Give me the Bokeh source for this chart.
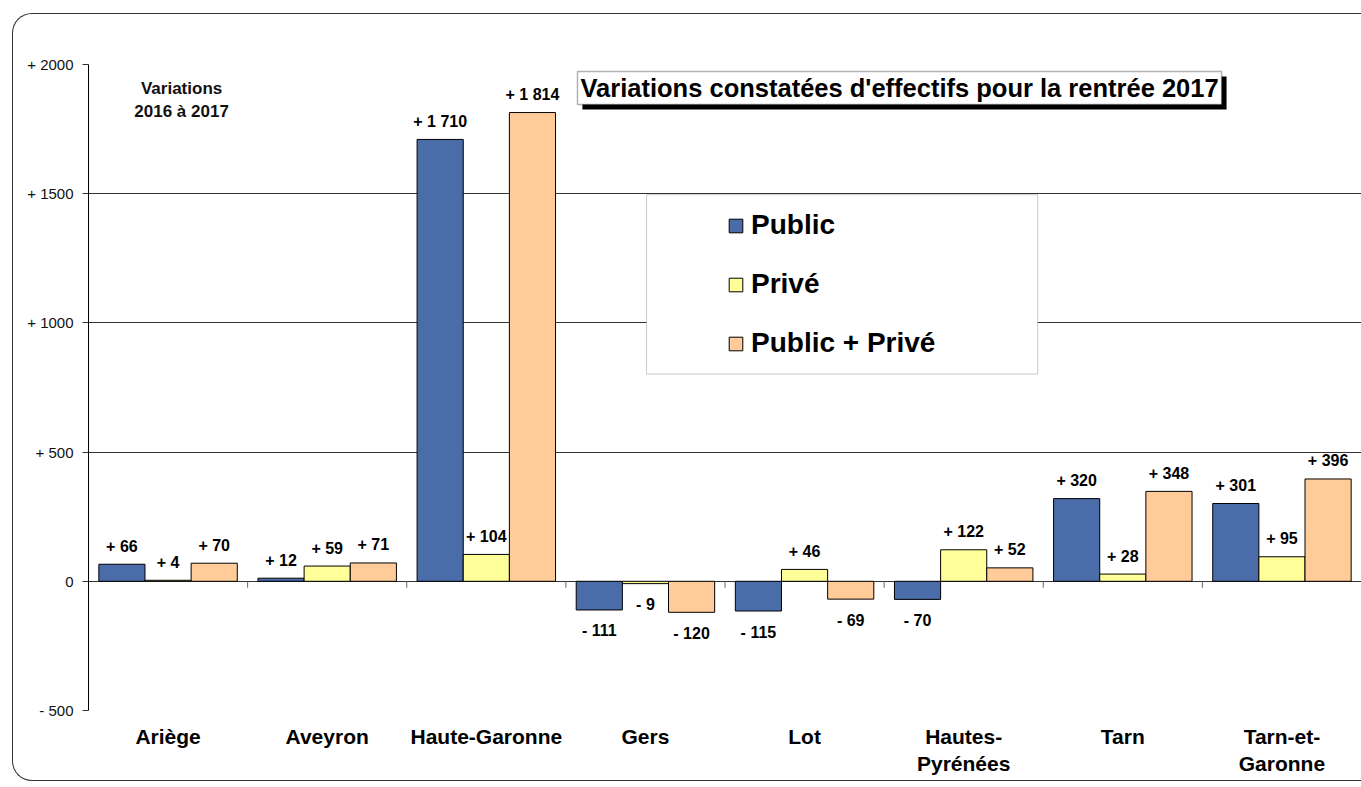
import numpy as np
from bokeh.plotting import figure
from bokeh.models import (Range1d, FixedTicker, LinearAxis, ColumnDataSource, Legend,
                          LegendItem, BoxAnnotation, Label, Grid, InlineStyleSheet)
from bokeh.core.properties import value
from bokeh.embed import file_html
from bokeh.resources import INLINE

# ---------------- data ----------------
categories = ["Ariège", "Aveyron", "Haute-Garonne", "Gers", "Lot",
              "Hautes-\nPyrénées", "Tarn", "Tarn-et-\nGaronne"]
public = [66, 12, 1710, -111, -115, -70, 320, 301]
prive = [4, 59, 104, -9, 46, 122, 28, 95]
total = [70, 71, 1814, -120, -69, 52, 348, 396]
series_names = ["Public", "Privé", "Public + Privé"]
series_colors = ["#4a6ca8", "#ffff99", "#ffcc99"]
y_ticks = [-500, 0, 500, 1000, 1500, 2000]
title_text = "Variations constatées d'effectifs pour la rentrée 2017"
note_text = "Variations\n2016 à 2017"

FONT = "Liberation Sans"


def fmt_value(v):
    s = f"{abs(v):,}".replace(",", " ")
    if v > 0:
        return "+ " + s
    if v < 0:
        return "- " + s
    return s


def fmt_tick(v):
    if v > 0:
        return f"+ {v}"
    if v < 0:
        return f"- {abs(v)}"
    return "0"


frame_css = InlineStyleSheet(css="""
:host { position: relative; }
:host::after {
  content: '';
  position: absolute;
  left: 12px; top: 13px;
  width: 1349px; height: 768px;
  box-sizing: border-box;
  border: 1.5px solid #333;
  border-right: none;
  border-radius: 20px 0 0 20px;
  pointer-events: none;
}
""")

n = len(categories)
p = figure(width=1361, height=787, x_range=Range1d(0, n), y_range=Range1d(-500, 2000),
           output_backend="svg", toolbar_location=None,
           x_axis_type=None, y_axis_type=None,
           min_border_left=88, min_border_right=0, min_border_top=64, min_border_bottom=77,
           stylesheets=[frame_css])
p.outline_line_color = None
p.background_fill_color = "white"
p.border_fill_color = "white"

# y axis
yaxis = LinearAxis(ticker=FixedTicker(ticks=y_ticks),
                   major_label_overrides={t: fmt_tick(t) for t in y_ticks})
yaxis.axis_line_color = "black"
yaxis.major_tick_out = 6
yaxis.major_tick_in = 0
yaxis.minor_tick_line_color = None
yaxis.major_tick_line_color = "#333"
yaxis.major_label_standoff = 9
yaxis.major_label_text_font = FONT
yaxis.major_label_text_font_size = "15px"
yaxis.major_label_text_color = "#111"
p.add_layout(yaxis, "left")

p.add_layout(Grid(dimension=1, ticker=FixedTicker(ticks=y_ticks),
                  grid_line_color="#333", grid_line_width=1), "center")

# x axis (category labels)
centers = [i + 0.5 for i in range(n)]
xaxis = LinearAxis(ticker=FixedTicker(ticks=centers),
                   major_label_overrides={c: lab for c, lab in zip(centers, categories)})
xaxis.axis_line_color = None
xaxis.major_tick_line_color = None
xaxis.minor_tick_line_color = None
xaxis.major_tick_out = 0
xaxis.major_label_standoff = 14
xaxis.major_label_text_font = FONT
xaxis.major_label_text_font_size = "21px"
xaxis.major_label_text_font_style = "bold"
xaxis.major_label_text_color = "black"
p.add_layout(xaxis, "below")

# category boundary ticks on the zero line
bounds = list(range(1, n))
p.segment(x0=bounds, y0=[0] * len(bounds), x1=bounds, y1=[-25] * len(bounds),
          line_color="#666", line_width=1)

# bars + value labels
bw = 0.29
renderers = []
for i, (vals, col) in enumerate(zip([public, prive, total], series_colors)):
    off = (i - 1) * bw
    src = ColumnDataSource(dict(
        x=[c + off for c in centers],
        top=vals,
        label=[fmt_value(v) for v in vals],
        yoff=[-18 if v >= 0 else 21 for v in vals],
    ))
    r = p.vbar(x="x", top="top", bottom=0, width=bw, fill_color=col,
               line_color="black", line_width=1, source=src)
    renderers.append(r)
    p.text(x="x", y="top", text="label", y_offset="yoff", source=src,
           text_align="center", text_baseline="middle",
           text_font=value(FONT), text_font_size="16px", text_font_style="bold",
           text_color="black")

# note top-left
p.add_layout(Label(x=0.585, y=1864, text=note_text, text_align="center",
                   text_baseline="middle", text_font=FONT, text_font_size="17px",
                   text_font_style="bold", text_color="#111"))

# title box with shadow
p.add_layout(BoxAnnotation(left=3.104, right=7.152, top=1954, bottom=1826,
                           fill_color="black", fill_alpha=1, line_color=None))
p.add_layout(BoxAnnotation(left=3.073, right=7.121, top=1973, bottom=1845,
                           fill_color="white", fill_alpha=1, line_color="black",
                           line_width=1.5))
p.add_layout(Label(x=5.097, y=1909, text=title_text, text_align="center",
                   text_baseline="middle", text_font=FONT, text_font_size="25.5px",
                   text_font_style="bold", text_color="black"))

# legend box
p.add_layout(BoxAnnotation(left=3.507, right=5.965, top=1496, bottom=802,
                           fill_color="white", fill_alpha=1, line_color="#555",
                           line_width=1))
legend = Legend(items=[LegendItem(label=nm, renderers=[r])
                       for nm, r in zip(series_names, renderers)],
                location=(639, 351), orientation="vertical",
                background_fill_alpha=0, border_line_alpha=0,
                padding=0, margin=0, spacing=27,
                glyph_width=17, glyph_height=17, label_height=32,
                label_standoff=7, label_text_font=FONT,
                label_text_font_size="28px", label_text_font_style="bold",
                label_text_color="black")
p.add_layout(legend, "center")

open("out.html", "w").write(file_html(p, INLINE))
